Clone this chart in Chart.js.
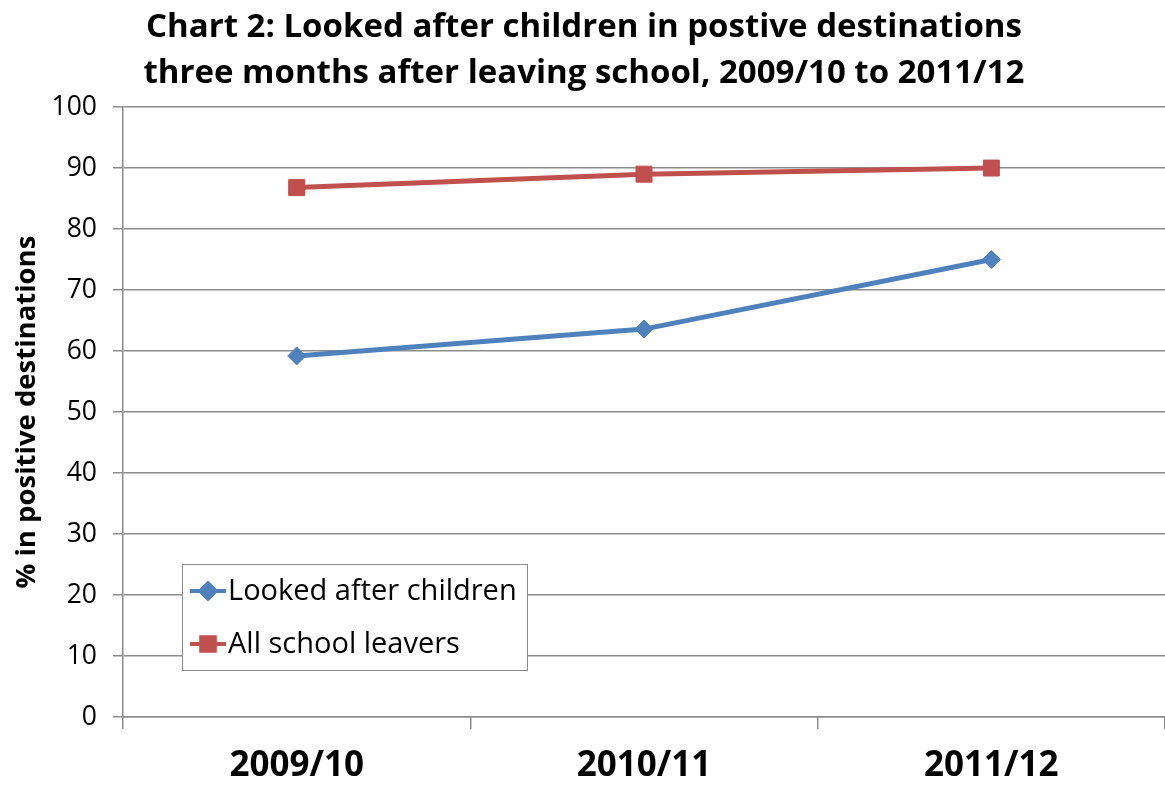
<!DOCTYPE html>
<html>
<head>
<meta charset="utf-8">
<script src="https://cdn.jsdelivr.net/npm/chart.js@4"></script>
<style>
  html, body { margin: 0; padding: 0; background: #fff; }
  #wrap { width: 1165px; height: 787px; }
</style>
</head>
<body>
<div id="wrap"><canvas id="c" width="1165" height="787"></canvas></div>
<script>
const categories = ['2009/10', '2010/11', '2011/12'];
const lookedAfterChildren = [59.2, 63.6, 75.0];
const allSchoolLeavers = [86.8, 89.0, 90.0];
const seriesNames = ['Looked after children', 'All school leavers'];
const titleLines = ['Chart 2: Looked after children in postive destinations',
                    'three months after leaving school, 2009/10 to 2011/12'];
const yAxisTitle = '% in positive destinations';

const FONT = '"Open Sans", Lato, sans-serif';
const BLUE = '#4F81BD';
const RED = '#C0504D';
const GRID = '#8c8c8c';

const insideLegend = {
  id: 'insideLegend',
  afterDraw(chart, args, opts) {
    const ctx = chart.ctx;
    ctx.save();
    ctx.fillStyle = '#fff';
    ctx.fillRect(opts.x, opts.y, opts.w, opts.h);
    ctx.strokeStyle = GRID;
    ctx.lineWidth = 1;
    ctx.strokeRect(opts.x + 0.5, opts.y + 0.5, opts.w, opts.h);
    chart.data.datasets.forEach((ds, i) => {
      const cy = opts.y + opts.firstRow + i * opts.rowGap;
      const x0 = opts.x + 8, x1 = opts.x + 44;
      ctx.strokeStyle = ds.borderColor;
      ctx.lineWidth = 4;
      ctx.beginPath(); ctx.moveTo(x0, cy); ctx.lineTo(x1, cy); ctx.stroke();
      ctx.fillStyle = ds.pointBackgroundColor;
      ctx.strokeStyle = ds.pointBorderColor;
      Chart.helpers.drawPoint(ctx, {pointStyle: ds.pointStyle, radius: ds.pointRadius * 0.85, rotation: 0, borderWidth: 1}, (x0 + x1) / 2, cy);
      ctx.fillStyle = '#000';
      ctx.font = opts.font;
      ctx.textBaseline = 'middle';
      ctx.textAlign = 'left';
      ctx.fillText(ds.label, x1 + 2, cy + 1);
    });
    ctx.restore();
  }
};

new Chart(document.getElementById('c'), {
  type: 'line',
  data: {
    labels: categories,
    datasets: [
      {
        label: seriesNames[0],
        data: lookedAfterChildren,
        borderColor: BLUE,
        borderWidth: 5,
        pointStyle: 'rectRot',
        pointRadius: 9,
        pointBackgroundColor: BLUE,
        pointBorderColor: BLUE,
        pointBorderWidth: 1,
        tension: 0
      },
      {
        label: seriesNames[1],
        data: allSchoolLeavers,
        borderColor: RED,
        borderWidth: 5,
        pointStyle: 'rect',
        pointRadius: 11.3,
        pointBackgroundColor: RED,
        pointBorderColor: RED,
        pointBorderWidth: 1,
        tension: 0
      }
    ]
  },
  options: {
    responsive: false,
    animation: false,
    devicePixelRatio: 1,
    layout: { autoPadding: false, padding: { left: 0, right: -3, top: 0, bottom: 0 } },
    plugins: {
      legend: { display: false },
      tooltip: { enabled: false },
      title: {
        display: true,
        text: titleLines,
        color: '#000',
        font: { family: FONT, size: 33, weight: 'bold', lineHeight: 1.38 },
        padding: { top: 5, bottom: 11 }
      },
      insideLegend: {
        x: 182, y: 564, w: 345, h: 106,
        firstRow: 27, rowGap: 53,
        font: '29px ' + FONT
      }
    },
    scales: {
      x: {
        type: 'category',
        offset: true,
        grid: { offset: true, drawOnChartArea: false, tickLength: 12, color: GRID, lineWidth: 1.5 },
        border: { color: GRID, width: 1.5 },
        ticks: { color: '#000', font: { family: FONT, size: 35, weight: 'bold' }, padding: 16, maxRotation: 0 },
        afterFit(scale) { scale.height = 70; scale.paddingLeft = 0; scale.paddingRight = 0; }
      },
      y: {
        min: 0, max: 100,
        ticks: { stepSize: 10, color: '#000', font: { family: FONT, size: 26.5 }, padding: 16 },
        grid: { color: GRID, lineWidth: 1.5, tickLength: 10 },
        border: { color: GRID, width: 1.5 },
        title: {
          display: true,
          text: yAxisTitle,
          color: '#000',
          font: { family: FONT, size: 27.5, weight: 'bold' },
          padding: { top: 11, bottom: 0 }
        },
        afterFit(scale) { scale.width = 123; }
      }
    }
  },
  plugins: [insideLegend]
});
</script>
</body>
</html>
